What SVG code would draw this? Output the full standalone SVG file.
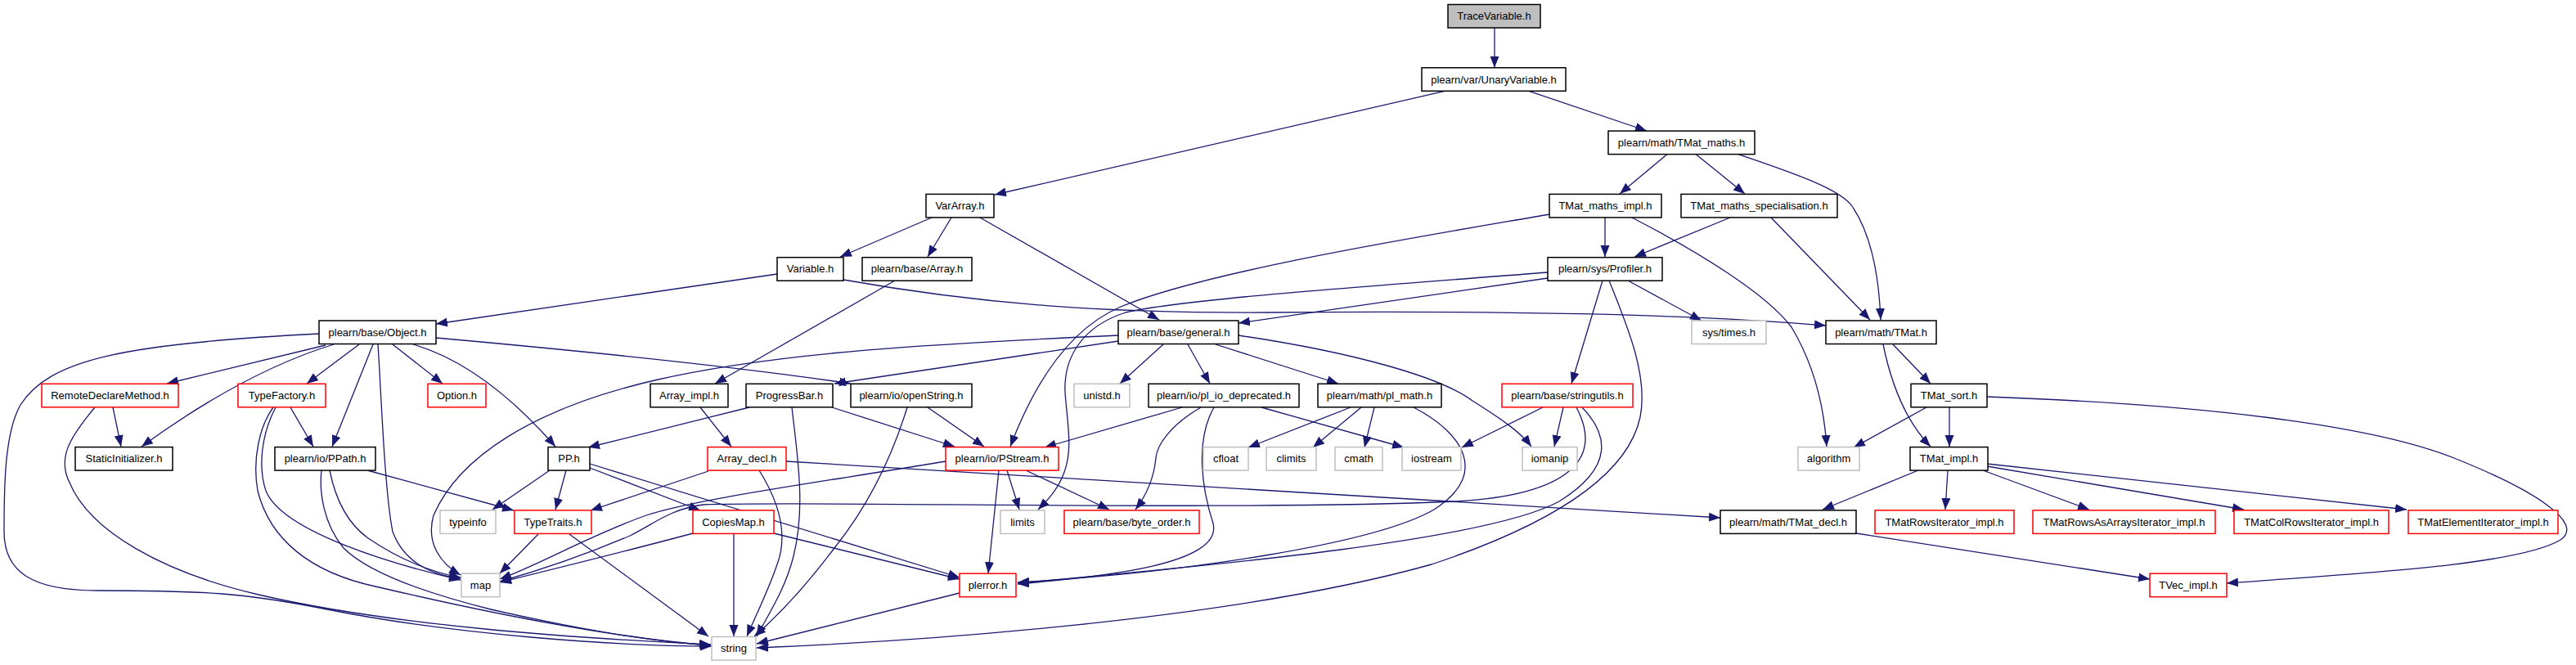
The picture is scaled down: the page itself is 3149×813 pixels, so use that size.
<svg xmlns="http://www.w3.org/2000/svg" width="3149" height="813" viewBox="0 0 3149 813">
<style>
text{font-family:"Liberation Sans",Arial,sans-serif;font-size:13px;text-anchor:middle;fill:#000}
rect{fill:#fff;stroke-width:1.5}
.b rect{stroke:#000}
.r rect{stroke:#ff0000}
.g rect{stroke:#bfbfbf}
.root rect{fill:#bfbfbf;stroke:#000}
#edges path{fill:none;stroke:#191970;stroke-width:1.3;marker-end:url(#ah)}
</style>
<defs>
<marker id="ah" markerUnits="userSpaceOnUse" markerWidth="15" markerHeight="12" refX="14" refY="5.5" orient="auto">
<path d="M0,0 L14,5.5 L0,11 z" fill="#191970"/>
</marker>
</defs>
<rect x="0" y="0" width="3149" height="813" style="fill:#fff;stroke:none"/>
<g id="edges">
<path d="M1827,34 L1827,82.8"/>
<path d="M1766,111.3 L1216,238"/>
<path d="M1869,111.3 L2013,160"/>
<path d="M2038,188.6 L1980,237"/>
<path d="M2073,188.6 L2133,237"/>
<path d="M2125,188.6 C2200,214 2250,232 2264,252 C2288,287 2297,340 2299,391"/>
<path d="M1962,266 L1962,314"/>
<path d="M1995,266 C2080,310 2160,360 2190,400 C2220,450 2230,500 2233,546"/>
<path d="M1894,262 C1750,287 1480,330 1370,375 C1300,405 1260,480 1235,546"/>
<path d="M2115,266 L1998,314"/>
<path d="M2165,266 L2286,391"/>
<path d="M1139,266 L1027,314"/>
<path d="M1163,266 L1134,314"/>
<path d="M1198,266 L1417,391"/>
<path d="M950,335 L533,396"/>
<path d="M1031,342 C1200,372 1350,383 1550,382 C1800,380 2050,382 2232,398"/>
<path d="M1094,343 L874,469"/>
<path d="M1892,340 L1514,395"/>
<path d="M1892,333 C1700,348 1450,365 1376,382 C1320,400 1300,440 1302,480 C1305,520 1312,550 1300,580 C1292,600 1280,612 1269,623"/>
<path d="M1367,410 C1150,420 950,430 800,465 C650,500 560,560 530,630 C520,665 540,690 563,703"/>
<path d="M1367,417 L1020,469"/>
<path d="M533,413 C700,428 900,448 1040,469"/>
<path d="M1422,421 L1369,469"/>
<path d="M1452,421 L1479,469"/>
<path d="M1486,421 L1636,469"/>
<path d="M1514,410 C1650,430 1760,460 1800,490 C1840,515 1860,530 1872,546"/>
<path d="M390,408 C150,420 60,440 25,495 C5,530 5,600 5,650 C5,700 40,722 120,722 C250,722 300,725 400,745 C550,775 750,790 870,790"/>
<path d="M398,422 L204,469"/>
<path d="M408,421 C330,445 250,490 173,546"/>
<path d="M439,421 L375,469"/>
<path d="M456,421 L406,546"/>
<path d="M462,421 C466,480 470,600 480,650 C495,690 530,703 563,707"/>
<path d="M480,421 L541,469"/>
<path d="M505,421 C570,440 630,490 679,546"/>
<path d="M138,498 L148,546"/>
<path d="M116,498 C85,535 70,560 85,590 C110,650 200,700 316,727 C480,765 700,780 869,788"/>
<path d="M355,498 L383,546"/>
<path d="M337,498 C320,530 315,570 325,600 C345,650 480,690 563,709"/>
<path d="M334,498 C318,520 308,560 315,600 C330,660 380,700 459,717 C600,750 750,780 869,789"/>
<path d="M449,575 L628,624"/>
<path d="M403,575 C410,610 425,640 450,658 C490,685 530,700 563,706"/>
<path d="M393,575 C390,600 395,640 420,670 C450,700 520,725 600,745 C700,768 800,785 869,789"/>
<path d="M672,575 L602,623"/>
<path d="M692,575 L679,623"/>
<path d="M721,572 L856,624"/>
<path d="M721,567 L1173,706"/>
<path d="M658,653 L611,701"/>
<path d="M696,653 L866,778"/>
<path d="M856,498 L894,546"/>
<path d="M866,576 L722,624"/>
<path d="M928,575 C950,610 965,650 950,690 C940,720 925,750 913,778"/>
<path d="M961,564 L2103,633"/>
<path d="M916,498 L719,547"/>
<path d="M968,498 C975,560 985,620 970,680 C960,720 940,750 925,778"/>
<path d="M1017,498 L1167,546"/>
<path d="M1109,498 C1090,560 1060,620 1020,670 C990,710 960,745 922,778"/>
<path d="M1134,498 L1203,546"/>
<path d="M1221,575 L1208,701"/>
<path d="M1231,575 L1246,623"/>
<path d="M1254,575 L1356,623"/>
<path d="M1156,564 C1000,590 850,610 790,630 C720,655 660,690 611,708"/>
<path d="M897,653 L897,778"/>
<path d="M946,652 L1173,708"/>
<path d="M847,652 C780,670 700,690 611,712"/>
<path d="M1173,725 L925,787"/>
<path d="M1927,498 C1960,560 1920,605 1780,613 C1500,625 1000,612 860,617 C820,622 800,640 770,655 C700,685 650,700 611,711"/>
<path d="M1934,498 C1965,530 1975,570 1906,613 C1820,660 1500,690 1244,713"/>
<path d="M1886,498 L1787,547"/>
<path d="M1911,498 L1900,546"/>
<path d="M1959,343 L1921,469"/>
<path d="M1990,343 L2080,392"/>
<path d="M1967,343 C1990,400 2015,460 2005,510 C1990,580 1900,640 1750,690 C1500,760 1100,785 925,792"/>
<path d="M1651,498 L1526,547"/>
<path d="M1664,498 L1605,547"/>
<path d="M1680,498 L1668,547"/>
<path d="M1728,498 C1790,530 1820,580 1753,623 C1680,665 1450,700 1244,712"/>
<path d="M1445,498 L1277,547"/>
<path d="M1468,498 C1430,520 1414,545 1413,560 C1410,590 1398,610 1388,623"/>
<path d="M1484,498 C1460,540 1470,600 1483,640 C1495,690 1350,705 1244,714"/>
<path d="M1542,498 L1716,547"/>
<path d="M2314,421 L2360,469"/>
<path d="M2302,421 C2310,460 2325,510 2360,546"/>
<path d="M2355,498 L2266,547"/>
<path d="M2383,498 L2383,546"/>
<path d="M2429,485 C2700,495 2900,520 3000,560 C3100,600 3160,640 3130,660 C3080,690 2900,700 2722,713"/>
<path d="M2345,575 L2228,623"/>
<path d="M2381,575 L2378,623"/>
<path d="M2424,575 L2554,623"/>
<path d="M2429,570 L2743,623"/>
<path d="M2429,567 L2942,623"/>
<path d="M2269,652 L2628,708"/>
</g>
<g id="n1" class="root"><rect x="1770" y="5.5" width="113" height="28.5"/><text x="1826.5" y="24.25">TraceVariable.h</text></g>
<g id="n2" class="b"><rect x="1738" y="82.8" width="176" height="28.5"/><text x="1826" y="101.55">plearn/var/UnaryVariable.h</text></g>
<g id="n3" class="b"><rect x="1966" y="160.1" width="179" height="28.5"/><text x="2055.5" y="178.85">plearn/math/TMat_maths.h</text></g>
<g id="n4" class="b"><rect x="1132" y="237.4" width="83" height="28.5"/><text x="1173.5" y="256.15">VarArray.h</text></g>
<g id="n5" class="b"><rect x="1894" y="237.4" width="137" height="28.5"/><text x="1962.5" y="256.15">TMat_maths_impl.h</text></g>
<g id="n6" class="b"><rect x="2055" y="237.4" width="191" height="28.5"/><text x="2150.5" y="256.15">TMat_maths_specialisation.h</text></g>
<g id="n7" class="b"><rect x="950" y="314.7" width="81" height="28.5"/><text x="990.5" y="333.45">Variable.h</text></g>
<g id="n8" class="b"><rect x="1054" y="314.7" width="134" height="28.5"/><text x="1121" y="333.45">plearn/base/Array.h</text></g>
<g id="n9" class="b"><rect x="1892" y="314.7" width="140" height="28.5"/><text x="1962" y="333.45">plearn/sys/Profiler.h</text></g>
<g id="n10" class="b"><rect x="390" y="392" width="143" height="28.5"/><text x="461.5" y="410.75">plearn/base/Object.h</text></g>
<g id="n11" class="b"><rect x="1367" y="392" width="147" height="28.5"/><text x="1440.5" y="410.75">plearn/base/general.h</text></g>
<g id="n12" class="g"><rect x="2068" y="392" width="91" height="28.5"/><text x="2113.5" y="410.75">sys/times.h</text></g>
<g id="n13" class="b"><rect x="2232" y="392" width="135" height="28.5"/><text x="2299.5" y="410.75">plearn/math/TMat.h</text></g>
<g id="n14" class="r"><rect x="51" y="469.3" width="167" height="28.5"/><text x="134.5" y="488.05">RemoteDeclareMethod.h</text></g>
<g id="n15" class="r"><rect x="291" y="469.3" width="107" height="28.5"/><text x="344.5" y="488.05">TypeFactory.h</text></g>
<g id="n16" class="r"><rect x="523" y="469.3" width="71" height="28.5"/><text x="558.5" y="488.05">Option.h</text></g>
<g id="n17" class="b"><rect x="795" y="469.3" width="95" height="28.5"/><text x="842.5" y="488.05">Array_impl.h</text></g>
<g id="n18" class="b"><rect x="912" y="469.3" width="106" height="28.5"/><text x="965" y="488.05">ProgressBar.h</text></g>
<g id="n19" class="b"><rect x="1040" y="469.3" width="148" height="28.5"/><text x="1114" y="488.05">plearn/io/openString.h</text></g>
<g id="n20" class="g"><rect x="1313" y="469.3" width="68" height="28.5"/><text x="1347" y="488.05">unistd.h</text></g>
<g id="n21" class="b"><rect x="1404" y="469.3" width="184" height="28.5"/><text x="1496" y="488.05">plearn/io/pl_io_deprecated.h</text></g>
<g id="n22" class="b"><rect x="1611" y="469.3" width="151" height="28.5"/><text x="1686.5" y="488.05">plearn/math/pl_math.h</text></g>
<g id="n23" class="r"><rect x="1836" y="469.3" width="160" height="28.5"/><text x="1916" y="488.05">plearn/base/stringutils.h</text></g>
<g id="n24" class="b"><rect x="2336" y="469.3" width="93" height="28.5"/><text x="2382.5" y="488.05">TMat_sort.h</text></g>
<g id="n25" class="b"><rect x="92" y="546.6" width="119" height="28.5"/><text x="151.5" y="565.35">StaticInitializer.h</text></g>
<g id="n26" class="b"><rect x="336" y="546.6" width="123" height="28.5"/><text x="397.5" y="565.35">plearn/io/PPath.h</text></g>
<g id="n27" class="b"><rect x="670" y="546.6" width="51" height="28.5"/><text x="695.5" y="565.35">PP.h</text></g>
<g id="n28" class="r"><rect x="865" y="546.6" width="96" height="28.5"/><text x="913" y="565.35">Array_decl.h</text></g>
<g id="n29" class="r"><rect x="1156" y="546.6" width="138" height="28.5"/><text x="1225" y="565.35">plearn/io/PStream.h</text></g>
<g id="n30" class="g"><rect x="1471" y="546.6" width="55" height="28.5"/><text x="1498.5" y="565.35">cfloat</text></g>
<g id="n31" class="g"><rect x="1548" y="546.6" width="61" height="28.5"/><text x="1578.5" y="565.35">climits</text></g>
<g id="n32" class="g"><rect x="1632" y="546.6" width="58" height="28.5"/><text x="1661" y="565.35">cmath</text></g>
<g id="n33" class="g"><rect x="1714" y="546.6" width="72" height="28.5"/><text x="1750" y="565.35">iostream</text></g>
<g id="n34" class="g"><rect x="1861" y="546.6" width="67" height="28.5"/><text x="1894.5" y="565.35">iomanip</text></g>
<g id="n35" class="g"><rect x="2198" y="546.6" width="75" height="28.5"/><text x="2235.5" y="565.35">algorithm</text></g>
<g id="n36" class="b"><rect x="2335" y="546.6" width="95" height="28.5"/><text x="2382.5" y="565.35">TMat_impl.h</text></g>
<g id="n37" class="g"><rect x="538" y="623.9" width="68" height="28.5"/><text x="572" y="642.65">typeinfo</text></g>
<g id="n38" class="r"><rect x="629" y="623.9" width="94" height="28.5"/><text x="676" y="642.65">TypeTraits.h</text></g>
<g id="n39" class="r"><rect x="847" y="623.9" width="99" height="28.5"/><text x="896.5" y="642.65">CopiesMap.h</text></g>
<g id="n40" class="g"><rect x="1223" y="623.9" width="54" height="28.5"/><text x="1250" y="642.65">limits</text></g>
<g id="n41" class="r"><rect x="1301" y="623.9" width="165" height="28.5"/><text x="1383.5" y="642.65">plearn/base/byte_order.h</text></g>
<g id="n42" class="b"><rect x="2103" y="623.9" width="166" height="28.5"/><text x="2186" y="642.65">plearn/math/TMat_decl.h</text></g>
<g id="n43" class="r"><rect x="2292" y="623.9" width="170" height="28.5"/><text x="2377" y="642.65">TMatRowsIterator_impl.h</text></g>
<g id="n44" class="r"><rect x="2485" y="623.9" width="223" height="28.5"/><text x="2596.5" y="642.65">TMatRowsAsArraysIterator_impl.h</text></g>
<g id="n45" class="r"><rect x="2731" y="623.9" width="189" height="28.5"/><text x="2825.5" y="642.65">TMatColRowsIterator_impl.h</text></g>
<g id="n46" class="r"><rect x="2944" y="623.9" width="183" height="28.5"/><text x="3035.5" y="642.65">TMatElementIterator_impl.h</text></g>
<g id="n47" class="g"><rect x="564" y="701.2" width="47" height="28.5"/><text x="587.5" y="719.95">map</text></g>
<g id="n48" class="r"><rect x="1173" y="701.2" width="69" height="28.5"/><text x="1207.5" y="719.95">plerror.h</text></g>
<g id="n49" class="r"><rect x="2628" y="701.2" width="94" height="28.5"/><text x="2675" y="719.95">TVec_impl.h</text></g>
<g id="n50" class="g"><rect x="870" y="778.5" width="54" height="28.5"/><text x="897" y="797.25">string</text></g>
</svg>
